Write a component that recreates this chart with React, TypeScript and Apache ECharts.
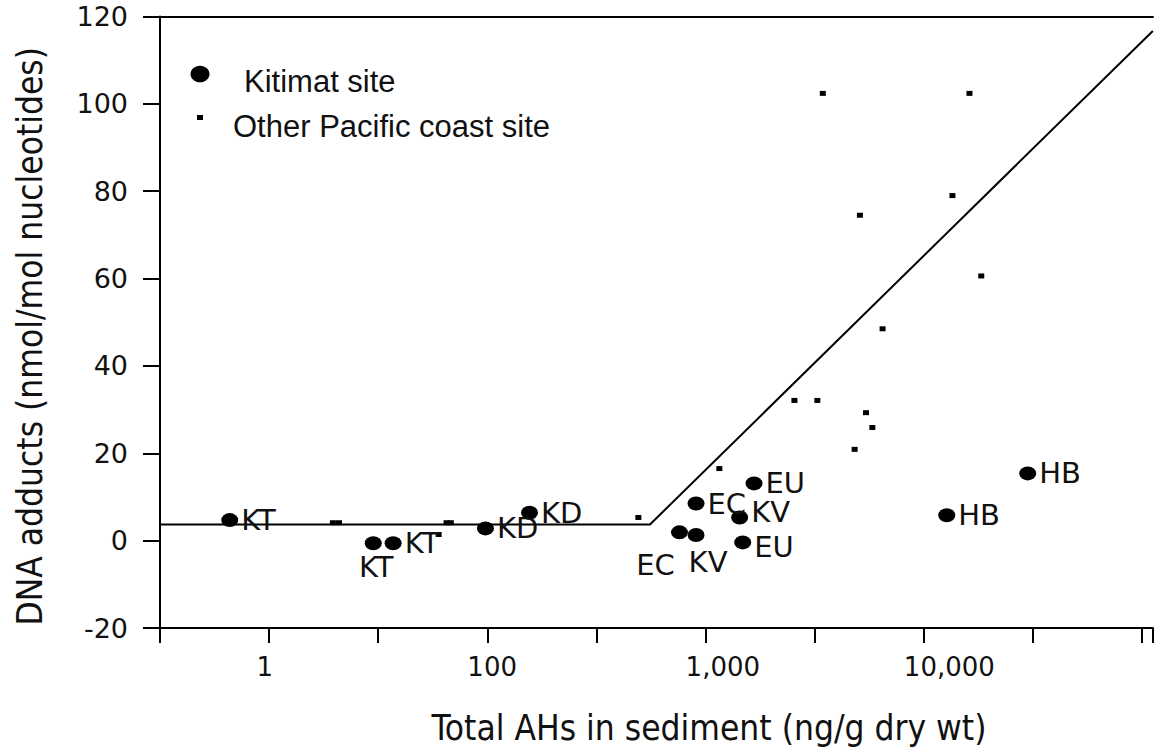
import React, { useEffect, useRef } from "react";
import * as echarts from "echarts";

// Kitimat sites (Total AHs in sediment, ng/g dry wt ; DNA adducts, nmol/mol nucleotides)
const kitimatSites = ["KT", "KT", "KT", "KD", "KD", "EC", "KV", "EC", "KV", "EU", "EU", "HB", "HB"];
const kitimatAH = [6.6, 30, 37, 98, 156, 759, 904, 904, 1432, 1667, 1479, 12735, 29923];
const kitimatAdducts = [4.7, -0.6, -0.6, 2.8, 6.4, 1.9, 1.3, 8.5, 5.3, 13.1, -0.4, 5.8, 15.4];

// Other Pacific coast sites
const otherAH = [19.6, 20.9, 65, 68, 59.8, 492, 1156, 2553, 3251, 3443, 16181, 5093, 13521, 18323, 6471, 5433, 5808, 4819];
const otherAdducts = [4.1, 4.1, 4.1, 4.1, 1.4, 5.3, 16.5, 32.1, 32.1, 102.4, 102.4, 74.5, 79.0, 60.6, 48.5, 29.3, 25.9, 20.9];

// Fitted hockey-stick line
const fitAH = [3.16, 556, 112000];
const fitAdducts = [3.7, 3.7, 116.7];

// X tick labels (placed at log10 positions)
const xTickLogs = [1, 2, 3, 4];
const xTickLabels = ["1", "100", "1,000", "10,000"];

const legendNames = ["Kitimat site", "Other Pacific coast site"];
const xTitle = "Total AHs in sediment (ng/g dry wt)";
const yTitle = "DNA adducts (nmol/mol nucleotides)";

// label placement for each Kitimat point (style, not data): null = right of the dot
const labelPlacement: (null | [number, number])[] = [
  null, [3, 24], null, null, null, [-24, 33], [12, 27], null, [0, -5], null, [0, 5], null, null,
];
const labelInside = [false, true, false, false, false, true, true, false, false, false, false, false, false];

const COND = "'DejaVu Sans Condensed', 'DejaVu Sans', sans-serif";
const SANS = "'DejaVu Sans', sans-serif";
const INK = "#111";
const ELLIPSE = "path://M0,7A8.5,7,0,1,1,17,7A8.5,7,0,1,1,0,7Z";

export default function App() {
  const ref = useRef<HTMLDivElement>(null);
  useEffect(() => {
    if (!ref.current) return;
    const chart = echarts.init(ref.current, undefined, { renderer: "svg" });
    const kitimatData = kitimatAH.map((ah, i) => {
      const off = labelPlacement[i];
      return {
        name: kitimatSites[i],
        value: [Math.log10(ah), kitimatAdducts[i]],
        label: labelInside[i]
          ? { show: true, position: "inside", offset: off, align: "center", verticalAlign: "middle" }
          : { show: true, position: "right", distance: 3, offset: off || [0, 0], align: "left", verticalAlign: "middle" },
      };
    });
    const otherData = otherAH.map((ah, i) => [Math.log10(ah), otherAdducts[i]]);
    const fitData = fitAH.map((ah, i) => [Math.log10(ah), fitAdducts[i]]);

    const xFmt = (v: number) => {
      const i = xTickLogs.findIndex((t) => Math.abs(t - v) < 1e-6);
      if (i < 0) return "";
      return (i === 0 ? "{s|" : "{w|") + xTickLabels[i] + "}";
    };

    const option: any = {
      animation: false,
      backgroundColor: "#fff",
      grid: { left: 160, right: -2, top: 16.5, bottom: 118.3, containLabel: false },
      xAxis: [
        {
          type: "value",
          min: 0.5,
          max: 5.05,
          interval: 0.5,
          name: xTitle,
          nameLocation: "middle",
          nameGap: 82,
          nameTextStyle: { fontSize: 35, fontFamily: COND, color: INK, padding: [0, 0, 0, 105] },
          axisLine: { show: true, onZero: false, lineStyle: { color: "#000", width: 2 } },
          axisTick: { show: true, length: 15, inside: false, lineStyle: { color: "#000", width: 2 } },
          splitLine: { show: false },
          axisLabel: {
            show: true,
            margin: 26,
            formatter: xFmt,
            fontSize: 26,
            fontFamily: SANS,
            color: INK,
            rich: {
              s: { width: 25, align: "left", fontSize: 26, fontFamily: SANS, color: INK },
              w: { width: 40, align: "left", fontSize: 26, fontFamily: SANS, color: INK },
            },
          },
        },
        {
          type: "value",
          position: "top",
          min: 0.5,
          max: 5.05,
          interval: 0.5,
          axisLine: { show: true, onZero: false, lineStyle: { color: "#000", width: 2 } },
          axisTick: { show: false },
          axisLabel: { show: false },
          splitLine: { show: false },
        },
      ],
      yAxis: {
        type: "value",
        min: -20,
        max: 120,
        interval: 20,
        name: yTitle,
        nameLocation: "middle",
        nameGap: 113,
        nameTextStyle: { fontSize: 35, fontFamily: COND, color: INK, padding: [0, 28, 0, 0] },
        axisLine: { show: true, onZero: false, lineStyle: { color: "#000", width: 2 } },
        axisTick: { show: true, length: 17, lineStyle: { color: "#000", width: 2 } },
        splitLine: { show: false },
        axisLabel: { margin: 32, fontSize: 27, fontFamily: SANS, color: INK },
      },
      series: [
        {
          type: "line",
          name: "fit",
          data: fitData,
          showSymbol: false,
          symbol: "none",
          lineStyle: { color: "#000", width: 2 },
          silent: true,
          z: 1,
        },
        {
          type: "scatter",
          name: legendNames[1],
          data: otherData,
          symbol: "rect",
          symbolSize: [6, 5],
          itemStyle: { color: "#000", opacity: 1 },
          z: 2,
        },
        {
          type: "scatter",
          name: legendNames[0],
          data: kitimatData,
          symbol: ELLIPSE,
          symbolSize: [17, 14],
          itemStyle: { color: "#000", opacity: 1 },
          label: {
            show: true,
            formatter: (p: any) => p.name,
            fontSize: 29,
            fontFamily: SANS,
            color: INK,
          },
          z: 3,
        },
      ],
      graphic: [
        { type: "ellipse", shape: { cx: 200, cy: 74, rx: 9.5, ry: 8.3 }, style: { fill: "#000" } },
        {
          type: "text",
          x: 244,
          y: 81,
          style: { text: legendNames[0], fontSize: 31, fontFamily: "'Liberation Sans', Arial, sans-serif", fill: INK, align: "left", verticalAlign: "middle" },
        },
        { type: "rect", shape: { x: 197, y: 115, width: 6, height: 5 }, style: { fill: "#000" } },
        {
          type: "text",
          x: 233,
          y: 126.5,
          style: { text: legendNames[1], fontSize: 31, fontFamily: "'Liberation Sans', Arial, sans-serif", fill: INK, align: "left", verticalAlign: "middle" },
        },
      ],
    };
    chart.setOption(option);
    return () => chart.dispose();
  }, []);
  return (
    <div
      ref={ref}
      style={{ position: "absolute", left: 0, top: 0, width: 1156, height: 750, background: "#fff" }}
    />
  );
}
